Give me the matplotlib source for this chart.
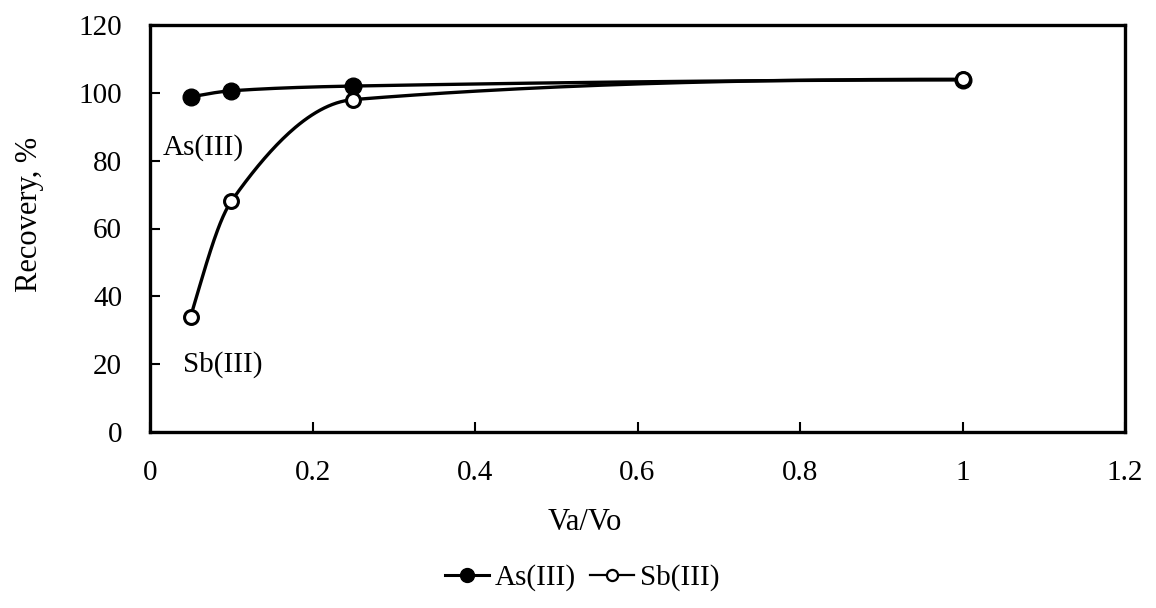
import numpy as np
import matplotlib.pyplot as plt
from matplotlib.lines import Line2D

plt.rcParams['font.family'] = ['Liberation Serif', 'DejaVu Serif']

va_vo = [0.05, 0.1, 0.25, 1.0]
as_rec = [98.8, 100.6, 102.0, 103.8]
sb_rec = [34, 68, 98, 104]


def smooth(x, y, n=60):
    # monotone cubic (pchip) curve through the points, like the smoothed line in the figure
    x = np.asarray(x, float)
    y = np.asarray(y, float)
    h = np.diff(x)
    d = np.diff(y) / h
    m = np.zeros_like(y)
    for k in range(1, len(x) - 1):
        if d[k - 1] * d[k] > 0:
            w1 = 2 * h[k] + h[k - 1]
            w2 = h[k] + 2 * h[k - 1]
            m[k] = (w1 + w2) / (w1 / d[k - 1] + w2 / d[k])
    m[0] = ((2 * h[0] + h[1]) * d[0] - h[0] * d[1]) / (h[0] + h[1])
    m[-1] = ((2 * h[-1] + h[-2]) * d[-1] - h[-1] * d[-2]) / (h[-1] + h[-2])
    if np.sign(m[0]) != np.sign(d[0]):
        m[0] = 0
    if np.sign(m[-1]) != np.sign(d[-1]):
        m[-1] = 0
    xs, ys = [], []
    for k in range(len(x) - 1):
        t = np.linspace(0, 1, n)
        h00 = 2 * t**3 - 3 * t**2 + 1
        h10 = t**3 - 2 * t**2 + t
        h01 = -2 * t**3 + 3 * t**2
        h11 = t**3 - t**2
        xs.extend(x[k] + t * h[k])
        ys.extend(h00 * y[k] + h10 * h[k] * m[k] + h01 * y[k + 1] + h11 * h[k] * m[k + 1])
    return xs, ys


fig = plt.figure(figsize=(11.56, 6.08), dpi=100)
ax = fig.add_axes([150 / 1156, 1 - 432 / 608, 975 / 1156, 407 / 608])

sx, sy = smooth(va_vo, as_rec)
ax.plot(sx, sy, color='black', lw=2.4, zorder=2)
ax.plot(va_vo, as_rec, 'o', color='black', ms=12, zorder=3)

sx, sy = smooth(va_vo, sb_rec)
ax.plot(sx, sy, color='black', lw=2.4, zorder=4)
ax.plot(va_vo, sb_rec, 'o', mfc='white', mec='black', mew=2.2, ms=10, zorder=5)

ax.set_xlim(0, 1.2)
ax.set_ylim(0, 120)
ax.set_xticks([0, 0.2, 0.4, 0.6, 0.8, 1, 1.2])
ax.set_xticklabels(['0', '0.2', '0.4', '0.6', '0.8', '1', '1.2'])
ax.set_yticks(range(0, 121, 20))
ax.tick_params(direction='in', length=7, width=1.5, labelsize=21)
ax.tick_params(axis='x', pad=20)
ax.tick_params(axis='y', pad=20)
for s in ax.spines.values():
    s.set_linewidth(2.4)

ax.set_xlabel('Va/Vo', fontsize=22)
ax.xaxis.set_label_coords((585 - 150) / 975, -(508 - 432) / 407)
ax.set_ylabel('Recovery, %', fontsize=22)
ax.yaxis.set_label_coords((44 - 150) / 975, (432 - 214) / 407)

ax.text(0.065, 84, 'As(III)', fontsize=21, ha='center', va='center')
ax.text(0.09, 20, 'Sb(III)', fontsize=21, ha='center', va='center')

handles = [
    Line2D([], [], color='black', lw=2.2, marker='o', ms=10),
    Line2D([], [], color='black', lw=1.6, marker='o', ms=8, mfc='white', mew=1.6),
]
fig.legend(handles, ['As(III)', 'Sb(III)'], loc='center', bbox_to_anchor=(582 / 1156, 1 - 578 / 608),
           ncol=2, frameon=False, fontsize=21, handlelength=1.5, handletextpad=0.2, columnspacing=0.5)

fig.savefig('out.png', dpi=100)
